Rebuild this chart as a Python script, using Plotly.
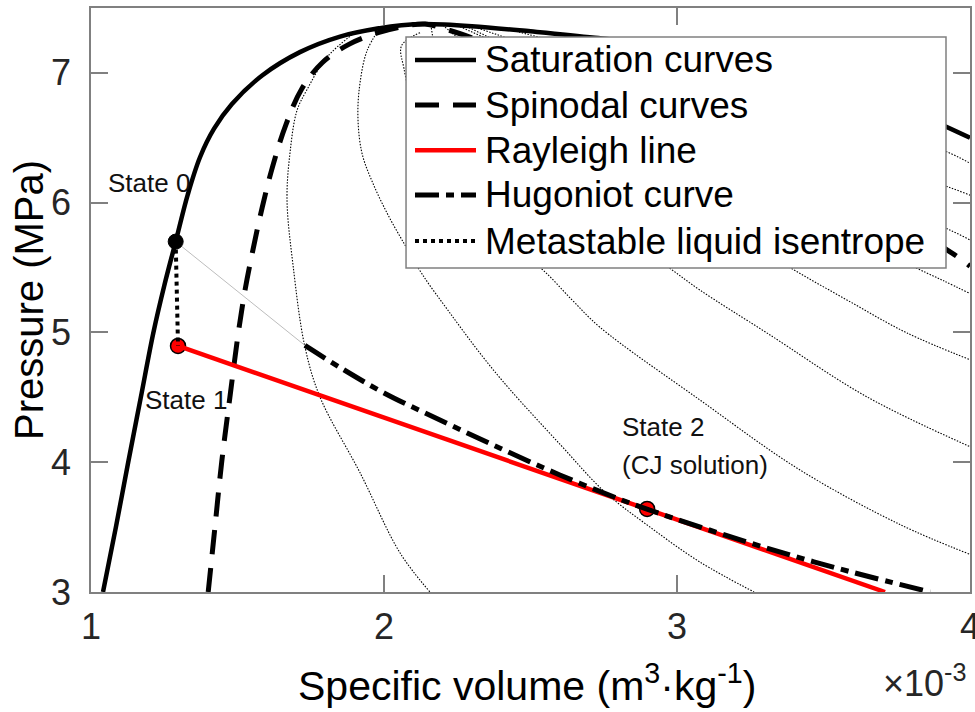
import plotly.graph_objects as go

# ---------------- data (specific volume in 1e-3 m3/kg, pressure in MPa) -------------
sat_liq_v = [1.041, 1.085, 1.127, 1.170, 1.213, 1.250, 1.289, 1.330, 1.372, 1.420, 1.481,
             1.584, 1.713, 1.850, 1.986, 2.060, 2.140]
sat_liq_p = [3.00, 3.50, 4.00, 4.50, 5.00, 5.36, 5.70, 6.06, 6.35, 6.57, 6.76,
             6.98, 7.16, 7.28, 7.345, 7.367, 7.377]
sat_vap_v = [2.300, 2.500, 2.720, 3.000, 3.300, 3.560, 3.800, 4.000]
sat_vap_p = [7.360, 7.320, 7.270, 7.190, 7.030, 6.880, 6.700, 6.500]

spin_liq_v = [1.400, 1.423, 1.446, 1.474, 1.503, 1.526, 1.553, 1.584, 1.620, 1.665, 1.720,
              1.790, 1.880, 1.980, 2.060, 2.140]
spin_liq_p = [3.00, 3.50, 4.00, 4.50, 5.00, 5.33, 5.64, 5.96, 6.28, 6.60, 6.88,
              7.08, 7.22, 7.31, 7.355, 7.377]
spin_vap_v = [2.220, 2.300, 2.450, 2.650, 2.900, 3.200, 3.500, 3.750, 3.940, 4.000]
spin_vap_p = [7.330, 7.270, 7.140, 6.950, 6.700, 6.400, 6.100, 5.850, 5.610, 5.510]

rayleigh_v = [1.297, 3.710]
rayleigh_p = [4.896, 3.000]

hug_v = [1.730, 1.850, 2.000, 2.200, 2.400, 2.600, 2.800, 2.900, 3.000, 3.200, 3.400, 3.600, 3.864]
hug_p = [4.900, 4.730, 4.534, 4.316, 4.104, 3.902, 3.719, 3.636, 3.560, 3.413, 3.276, 3.151, 3.000]

# unstable part of the Hugoniot (thin grey line from state 0)
hug_unst_v = [1.289, 1.730]
hug_unst_p = [5.700, 4.900]

meta_v = [1.289, 1.297]
meta_p = [5.700, 4.896]

state_v = [1.289, 1.297, 2.898]
state_p = [5.700, 4.896, 3.640]

# two-phase isentropes (thin dotted)
isen_A_v = [1.900, 1.805, 1.737, 1.703, 1.679, 1.669, 1.690, 1.730, 1.782, 1.918, 2.055, 2.157]
isen_A_p = [7.310, 7.120, 6.870, 6.710, 6.380, 6.020, 5.510, 4.890, 4.500, 3.920, 3.300, 3.000]
isen_B_v = [1.986, 1.942, 1.918, 1.911, 1.925, 1.962, 2.015, 2.075, 2.130, 2.225, 2.338, 2.430,
            2.604, 2.754, 2.908, 3.079, 3.263]
isen_B_p = [7.345, 7.170, 6.920, 6.660, 6.380, 6.150, 5.900, 5.660, 5.450, 5.150, 4.810, 4.560,
            4.130, 3.770, 3.500, 3.230, 3.000]
isen_C_v = [2.123, 2.060, 2.068, 2.120, 2.220, 2.360, 2.450, 2.543, 2.642, 2.737, 3.078, 3.420, 3.761, 4.000]
isen_C_p = [7.310, 7.210, 7.035, 6.600, 6.150, 5.850, 5.640, 5.480, 5.250, 5.040, 4.480, 3.940, 3.520, 3.290]
isen_D_v = [2.160, 2.200, 2.350, 2.600, 2.850, 2.969, 3.078, 3.307, 3.648, 4.000]
isen_D_p = [7.370, 7.000, 6.500, 6.000, 5.680, 5.504, 5.327, 4.996, 4.504, 4.120]
isen_E_v = [2.200, 2.400, 2.700, 3.000, 3.200, 3.382, 3.580, 3.785, 4.000]
isen_E_p = [7.368, 7.000, 6.500, 6.050, 5.750, 5.504, 5.250, 4.996, 4.790]
isen_F_v = [2.250, 2.600, 3.000, 3.400, 3.782, 3.908, 4.000]
isen_F_p = [7.365, 7.000, 6.500, 6.000, 5.535, 5.400, 5.300]
isen_G_v = [2.400, 3.000, 3.500, 3.908, 4.000]
isen_G_p = [7.350, 7.000, 6.700, 6.404, 6.304]
isen_H_v = [2.300, 2.900, 3.400, 3.908, 4.000]
isen_H_p = [7.360, 6.900, 6.500, 6.135, 6.058]
isen_I_v = [2.280, 2.800, 3.300, 3.908, 4.000]
isen_I_p = [7.360, 6.800, 6.300, 5.812, 5.712]

x_ticks = [1, 2, 3, 4]
y_ticks = [3, 4, 5, 6, 7]

legend_labels = ["Saturation curves", "Spinodal curves", "Rayleigh line",
                 "Hugoniot curve", "Metastable liquid isentrope"]

FONT = "Liberation Sans, Arial, sans-serif"

# ---------------- styles ----------------
sat_line = dict(color="black", width=4.5)
spin_line = dict(color="black", width=5, dash="24px,14px")
ray_line = dict(color="#ff0000", width=4.5)
hug_line = dict(color="black", width=5, dash="24px,7px,8px,7px")
meta_line = dict(color="black", width=4, dash="4px,4px")
legend_styles = [sat_line, spin_line, ray_line, hug_line, meta_line]

# ---------------- build traces ----------------
isen_v, isen_p = [], []
for vv, pp in [(isen_A_v, isen_A_p), (isen_B_v, isen_B_p), (isen_C_v, isen_C_p),
               (isen_D_v, isen_D_p), (isen_E_v, isen_E_p), (isen_F_v, isen_F_p),
               (isen_G_v, isen_G_p), (isen_H_v, isen_H_p), (isen_I_v, isen_I_p)]:
    isen_v += vv + [None]
    isen_p += pp + [None]

fig = go.Figure()

fig.add_trace(go.Scatter(x=isen_v, y=isen_p, mode="lines", showlegend=False, name="isentropes",
                         line=dict(color="#000000", width=1.1, dash="1.5px,1.5px", shape="spline"),
                         hoverinfo="skip"))
fig.add_trace(go.Scatter(x=hug_unst_v, y=hug_unst_p, mode="lines", showlegend=False,
                         line=dict(color="#bdbdbd", width=1)))
fig.add_trace(go.Scatter(x=sat_liq_v + sat_vap_v, y=sat_liq_p + sat_vap_p, mode="lines",
                         name=legend_labels[0], showlegend=False,
                         line=dict(**sat_line, shape="spline")))
fig.add_trace(go.Scatter(x=spin_liq_v + spin_vap_v, y=spin_liq_p + spin_vap_p, mode="lines",
                         name=legend_labels[1], showlegend=False,
                         line=dict(**spin_line, shape="spline")))
fig.add_trace(go.Scatter(x=state_v[1:], y=state_p[1:], mode="markers", showlegend=False,
                         marker=dict(color="#ff0000", size=15, line=dict(color="black", width=1.5))))
fig.add_trace(go.Scatter(x=rayleigh_v, y=rayleigh_p, mode="lines", name=legend_labels[2],
                         showlegend=False, line=ray_line))
fig.add_trace(go.Scatter(x=hug_v, y=hug_p, mode="lines", name=legend_labels[3], showlegend=False,
                         line=dict(**hug_line, shape="spline")))
fig.add_trace(go.Scatter(x=state_v[:1], y=state_p[:1], mode="markers", showlegend=False,
                         marker=dict(color="black", size=15, line=dict(color="black", width=1))))
fig.add_trace(go.Scatter(x=meta_v, y=meta_p, mode="lines", name=legend_labels[4],
                         showlegend=False, line=meta_line))

axis_common = dict(showgrid=False, zeroline=False, showline=True, linecolor="#808080",
                   linewidth=1.5, mirror="ticks", ticks="inside", ticklen=17, tickwidth=1.5,
                   tickcolor="#808080", automargin=False,
                   tickfont=dict(family=FONT, size=36, color="#262626"))

fig.update_xaxes(range=[1, 4], tickvals=x_ticks, ticktext=[str(t) for t in x_ticks],
                 ticklabelstandoff=2, ticklabeloverflow="allow", **axis_common)
fig.update_yaxes(range=[3, 7.5], tickvals=y_ticks, ticktext=[str(t) for t in y_ticks],
                 ticklabelstandoff=11, **axis_common)

# ---------------- legend box (paper coordinates) ----------------
L_X0, L_X1, L_Y0, L_Y1 = 0.3584, 0.9727, 0.5548, 0.9503
ROW_Y = [0.9110, 0.8339, 0.7565, 0.6798, 0.6010]
SAMPLE_X0, SAMPLE_X1, TEXT_X = 0.3686, 0.4380, 0.4460

shapes = [dict(type="rect", xref="paper", yref="paper", x0=L_X0, x1=L_X1, y0=L_Y0, y1=L_Y1,
               fillcolor="white", line=dict(color="#808080", width=1.5), layer="above")]
ann_font = dict(family=FONT, size=26, color="#111111")
annotations = []
for lbl, sty, ry in zip(legend_labels, legend_styles, ROW_Y):
    shapes.append(dict(type="line", xref="paper", yref="paper", x0=SAMPLE_X0, x1=SAMPLE_X1,
                       y0=ry, y1=ry, line=sty, layer="above"))
    annotations.append(dict(text=lbl, xref="paper", yref="paper", x=TEXT_X, y=ry,
                            xanchor="left", yanchor="middle", showarrow=False,
                            font=dict(family=FONT, size=37, color="black")))

annotations += [
    dict(text="Pressure (MPa)", xref="paper", yref="paper", x=-0.0705, y=0.5,
         textangle=-90, showarrow=False, xanchor="center", yanchor="middle",
         font=dict(family=FONT, size=40, color="black")),
    dict(text="Specific volume (m<sup>3</sup>·kg<sup>-1</sup>)", xref="paper", yref="paper",
         x=0.4965, y=-0.2038, showarrow=False, xanchor="center", yanchor="bottom",
         font=dict(family=FONT, size=41, color="black")),
    dict(text="×10<sup>-3</sup>", xref="paper", yref="paper", x=0.9977, y=-0.152,
         showarrow=False, xanchor="right", yanchor="middle",
         font=dict(family=FONT, size=36, color="#262626")),
    dict(text="State 0", x=1.051, y=6.15, xanchor="left", yanchor="middle",
         showarrow=False, font=ann_font),
    dict(text="State 1", x=1.177, y=4.48, xanchor="left", yanchor="middle",
         showarrow=False, font=ann_font),
    dict(text="State 2", x=2.805, y=4.27, xanchor="left", yanchor="middle",
         showarrow=False, font=ann_font),
    dict(text="(CJ solution)", x=2.805, y=3.98, xanchor="left", yanchor="middle",
         showarrow=False, font=ann_font),
]

fig.update_layout(
    width=975, height=712,
    margin=dict(l=91, r=5, t=8, b=120, autoexpand=False),
    paper_bgcolor="white", plot_bgcolor="white",
    font=dict(family=FONT, color="black"),
    showlegend=False,
    shapes=shapes,
    annotations=annotations,
)

fig.write_html("out.html")
